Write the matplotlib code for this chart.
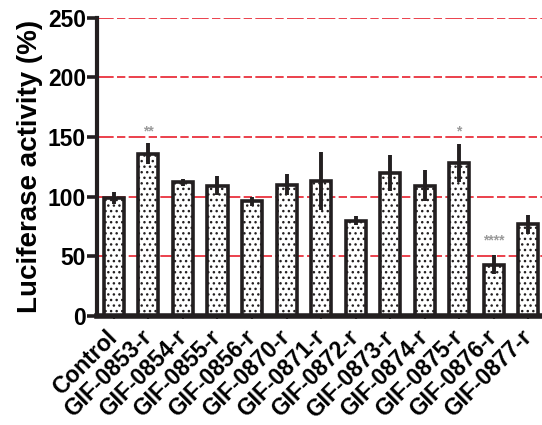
import matplotlib
matplotlib.use("Agg")
import matplotlib.pyplot as plt
import numpy as np

plt.rcParams['font.family'] = ['Liberation Sans', 'DejaVu Sans']
plt.rcParams['hatch.linewidth'] = 1.0
plt.rcParams['hatch.color'] = '#231f20'

categories = ["Control", "GIF-0853-r", "GIF-0854-r", "GIF-0855-r", "GIF-0856-r",
              "GIF-0870-r", "GIF-0871-r", "GIF-0872-r", "GIF-0873-r", "GIF-0874-r",
              "GIF-0875-r", "GIF-0876-r", "GIF-0877-r"]
activity = [99, 136, 112, 109, 96, 110, 113, 80, 120, 109, 128, 43, 77]
sd = [5, 9, 3, 8, 4, 9, 24, 4, 15, 13, 16, 8, 8]
stars = {"GIF-0853-r": "**", "GIF-0875-r": "*", "GIF-0876-r": "****"}
star_level = {"GIF-0853-r": 149, "GIF-0875-r": 149, "GIF-0876-r": 57}
yticks = [0, 50, 100, 150, 200, 250]

fig = plt.figure(figsize=(5.42, 4.25), dpi=100)
ax = fig.add_axes([0.179, 0.2565, 0.821, 0.702])

x = np.arange(len(categories))
for yv in yticks[1:]:
    ax.axhline(yv, color='#e8202e', lw=1.2, dashes=(10, 2, 5, 2), zorder=0.5)

ax.bar(x, activity, width=0.58, color='white', edgecolor='#231f20',
       linewidth=2.6, hatch='...', zorder=2)
ax.errorbar(x, activity, yerr=sd, fmt='none', ecolor='#231f20',
            elinewidth=2.8, capsize=0, zorder=3)

for name, s in stars.items():
    i = categories.index(name)
    ax.text(i, star_level[name], s, ha='center', va='bottom', color='#9a9a9a',
            fontsize=10, fontweight='bold')

ax.set_xlim(-0.49, 12.4)
ax.set_ylim(0, 250)
ax.set_yticks(yticks)
ax.set_xticks(x)
ax.set_xticklabels(categories, rotation=45, ha='right', va='center',
                   rotation_mode='anchor', fontsize=16.5, fontweight='bold')
for lbl in ax.get_yticklabels():
    lbl.set_fontweight('bold')
    lbl.set_fontsize(16.5)
ax.tick_params(axis='y', length=7, width=2.6, color='#231f20', pad=1)
ax.tick_params(axis='x', length=2, width=1.5, color='#231f20', pad=11)
ax.set_ylabel("Luciferase activity (%)", fontsize=20, fontweight='bold', labelpad=3)

ax.spines['top'].set_visible(False)
ax.spines['right'].set_visible(False)
ax.spines['left'].set_linewidth(3)
ax.spines['bottom'].set_linewidth(4)
ax.spines['left'].set_color('#231f20')
ax.spines['bottom'].set_color('#231f20')

fig.savefig("out.png", dpi=100)
